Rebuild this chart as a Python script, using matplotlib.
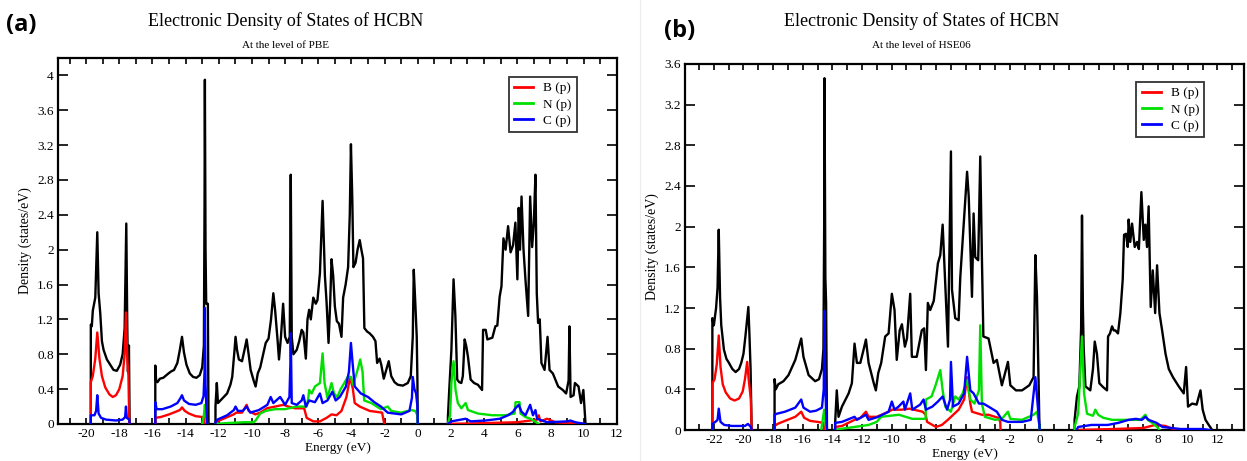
import numpy as np
import matplotlib
matplotlib.use("Agg")
import matplotlib.pyplot as plt
from matplotlib.ticker import MultipleLocator, FuncFormatter
from matplotlib.lines import Line2D

# config
SERIF = "Liberation Serif"
plt.rcParams["font.family"] = SERIF
plt.rcParams["axes.unicode_minus"] = False

GAP = (np.nan, np.nan)  # break between bands

# ---- (a) PBE : (energy eV, density states/eV) ----
pbe_total = [
    (-19.72, 0), (-19.72, 1.14), (-19.66, 1.12), (-19.6, 1.3), (-19.45, 1.45), (-19.33, 2.2), (-19.25, 1.5),
    (-19.15, 1.27), (-19.05, 0.95), (-18.95, 0.85), (-18.75, 0.74), (-18.55, 0.68), (-18.35, 0.62), (-18.15, 0.61),
    (-17.95, 0.68), (-17.8, 0.8), (-17.68, 1.1), (-17.58, 2.3), (-17.52, 1.1), (-17.48, 0.6), (-17.42, 0.9), (-17.38, 0),
    GAP,
    (-15.83, 0), (-15.83, 0.67), (-15.78, 0.5), (-15.7, 0.48), (-15.55, 0.52), (-15.35, 0.53), (-15.1, 0.57),
    (-14.9, 0.6), (-14.7, 0.62), (-14.5, 0.7), (-14.35, 0.85), (-14.22, 1.0), (-14.1, 0.82), (-13.95, 0.68),
    (-13.75, 0.58), (-13.55, 0.54), (-13.35, 0.53), (-13.15, 0.56), (-13.0, 0.65), (-12.9, 0.9), (-12.86, 2.5),
    (-12.84, 3.95), (-12.8, 2.0), (-12.76, 1.38), (-12.66, 1.38), (-12.62, 0),
    GAP,
    (-12.2, 0), (-12.2, 0.2), (-12.12, 0.47), (-12.05, 0.24), (-11.85, 0.28), (-11.5, 0.35), (-11.3, 0.45),
    (-11.19, 0.54), (-11.05, 0.85), (-10.99, 1.0), (-10.9, 0.85), (-10.79, 0.74), (-10.6, 0.72), (-10.45, 0.85),
    (-10.32, 0.97), (-10.2, 0.8), (-10.08, 0.62), (-9.9, 0.5), (-9.78, 0.43), (-9.65, 0.58), (-9.5, 0.65),
    (-9.3, 0.82), (-9.17, 0.93), (-9.0, 0.98), (-8.85, 1.2), (-8.71, 1.5), (-8.6, 1.3), (-8.45, 0.95), (-8.37, 0.74),
    (-8.25, 1.0), (-8.12, 1.38), (-8.0, 1.0), (-7.85, 0.93), (-7.72, 1.0), (-7.66, 2.86), (-7.6, 1.0), (-7.5, 0.8),
    (-7.3, 0.85), (-7.15, 0.95), (-7.0, 1.08), (-6.9, 1.05), (-6.75, 0.75), (-6.65, 1.2), (-6.55, 1.31),
    (-6.45, 1.2), (-6.3, 1.45), (-6.15, 1.38), (-6.05, 1.42), (-5.9, 1.73), (-5.74, 2.56), (-5.6, 1.7), (-5.5, 1.4),
    (-5.38, 0.93), (-5.28, 1.4), (-5.2, 1.89), (-5.1, 1.7), (-5.0, 1.35), (-4.88, 1.18), (-4.75, 1.15), (-4.6, 1.0),
    (-4.5, 1.45), (-4.35, 1.6), (-4.2, 1.8), (-4.1, 2.4), (-4.03, 3.21), (-3.95, 2.6), (-3.88, 1.8), (-3.75, 1.85),
    (-3.63, 2.0), (-3.5, 2.11), (-3.4, 2.0), (-3.3, 1.9), (-3.22, 1.1), (-3.05, 1.06), (-2.9, 1.04), (-2.7, 1.0),
    (-2.55, 0.95), (-2.45, 0.7), (-2.3, 0.75), (-2.2, 0.68), (-2.05, 0.52), (-1.9, 0.62), (-1.75, 0.72), (-1.6, 0.55),
    (-1.4, 0.48), (-1.2, 0.45), (-0.9, 0.44), (-0.6, 0.47), (-0.42, 0.55), (-0.3, 1.0), (-0.24, 1.77), (-0.15, 1.4),
    (-0.06, 1.0), (-0.02, 0.5), (0.0, 0),
    GAP,
    (1.82, 0), (1.82, 0.08), (1.9, 0.39), (2.03, 0.85), (2.16, 1.66), (2.27, 1.24), (2.38, 0.51), (2.5, 0.48),
    (2.63, 0.47), (2.72, 0.55), (2.83, 0.97), (2.93, 0.89), (3.03, 0.77), (3.19, 0.51), (3.4, 0.47), (3.63, 0.45),
    (3.88, 0.39), (3.94, 1.08), (4.1, 1.08), (4.2, 0.97), (4.5, 0.99), (4.68, 1.12), (4.8, 1.13), (4.94, 1.46),
    (5.05, 1.58), (5.17, 2.13), (5.3, 2.0), (5.45, 2.27), (5.6, 1.97), (5.75, 2.05), (5.89, 2.31), (6.01, 1.66),
    (6.09, 2.48), (6.17, 2.0), (6.26, 2.61), (6.38, 2.0), (6.5, 1.65), (6.56, 1.5), (6.66, 1.24), (6.78, 2.61),
    (6.9, 2.03), (7.0, 2.3), (7.1, 2.86), (7.18, 1.5), (7.26, 1.16), (7.36, 1.2), (7.46, 0.7), (7.65, 0.62),
    (7.83, 1.0), (7.95, 0.62), (8.15, 0.58), (8.47, 0.43), (8.75, 0.39), (8.95, 0.35), (9.1, 0.5), (9.15, 1.12),
    (9.22, 0.31), (9.4, 0.33), (9.48, 0.47), (9.7, 0.43), (9.85, 0.24), (9.99, 0.39), (10.09, 0.08), (10.12, 0),
]
pbe_b = [
    (-19.72, 0), (-19.72, 0.48), (-19.6, 0.55), (-19.45, 0.75), (-19.33, 1.05), (-19.2, 0.75), (-19.05, 0.55),
    (-18.85, 0.42), (-18.6, 0.34), (-18.4, 0.31), (-18.2, 0.33), (-18.0, 0.4), (-17.8, 0.55), (-17.68, 0.8),
    (-17.6, 1.28), (-17.52, 0.75), (-17.45, 0.55), (-17.4, 0),
    GAP,
    (-15.83, 0), (-15.83, 0.07), (-15.5, 0.08), (-15.0, 0.11), (-14.6, 0.14), (-14.35, 0.16), (-14.22, 0.19),
    (-14.05, 0.15), (-13.8, 0.12), (-13.4, 0.09), (-13.0, 0.08), (-12.9, 0.08), (-12.86, 0),
    GAP,
    (-12.2, 0), (-12.2, 0.01), (-12.09, 0.03), (-11.6, 0.07), (-11.1, 0.11), (-10.95, 0.13), (-10.6, 0.13),
    (-10.32, 0.22), (-10.2, 0.15), (-9.8, 0.11), (-9.5, 0.13), (-9.1, 0.18), (-8.6, 0.2), (-8.1, 0.22),
    (-7.8, 0.2), (-7.4, 0.18), (-7.0, 0.18), (-6.85, 0.18), (-6.7, 0.07), (-6.3, 0.03), (-5.9, 0.03), (-5.5, 0.07),
    (-5.2, 0.11), (-4.9, 0.1), (-4.6, 0.15), (-4.3, 0.31), (-4.08, 0.54), (-3.92, 0.41), (-3.8, 0.24), (-3.5, 0.2),
    (-2.9, 0.15), (-2.15, 0.13), (-2.05, 0.03), (-2.0, 0),
    GAP,
    (1.82, 0), (3.0, 0.005), (6.0, 0.02), (7.2, 0.05), (7.3, 0.1), (7.4, 0.03), (7.8, 0.06), (8.3, 0.02), (10.0, 0),
]
pbe_n = [
    (-13.0, 0), (-12.9, 0.1), (-12.84, 0.22), (-12.78, 0.1), (-12.7, 0),
    GAP,
    (-12.2, 0), (-11.5, 0.01), (-10.5, 0.02), (-9.9, 0.02), (-9.78, 0.04), (-9.5, 0.12), (-9.17, 0.15),
    (-8.6, 0.17), (-8.0, 0.17), (-7.3, 0.2), (-6.7, 0.2), (-6.6, 0.3), (-6.55, 0.39), (-6.4, 0.35), (-6.2, 0.43),
    (-5.9, 0.47), (-5.74, 0.81), (-5.62, 0.47), (-5.45, 0.3), (-5.2, 0.47), (-5.05, 0.35), (-4.85, 0.31),
    (-4.65, 0.4), (-4.43, 0.47), (-4.23, 0.54), (-4.03, 0.54), (-3.9, 0.45), (-3.63, 0.62), (-3.47, 0.74),
    (-3.33, 0.6), (-3.23, 0.27), (-2.8, 0.24), (-2.22, 0.17), (-1.81, 0.2), (-1.6, 0.15), (-1.0, 0.13),
    (-0.4, 0.16), (-0.15, 0.15), (-0.02, 0.1), (0.0, 0),
    GAP,
    (1.82, 0), (1.95, 0.1), (2.03, 0.47), (2.16, 0.72), (2.28, 0.39), (2.42, 0.24), (2.63, 0.18), (2.89, 0.24),
    (3.03, 0.16), (3.63, 0.12), (4.5, 0.1), (5.3, 0.1), (5.84, 0.12), (5.9, 0.25), (6.14, 0.25), (6.2, 0.12),
    (6.5, 0.08), (6.8, 0.06), (7.06, 0.03), (7.3, 0),
]
pbe_c = [
    (-19.72, 0), (-19.72, 0.1), (-19.5, 0.1), (-19.4, 0.15), (-19.33, 0.33), (-19.25, 0.12), (-19.1, 0.07),
    (-18.8, 0.05), (-18.2, 0.04), (-17.8, 0.05), (-17.65, 0.08), (-17.6, 0.2), (-17.55, 0.07), (-17.4, 0.05),
    (-17.38, 0),
    GAP,
    (-15.83, 0), (-15.83, 0.25), (-15.75, 0.17), (-15.4, 0.17), (-14.9, 0.2), (-14.5, 0.24), (-14.3, 0.3),
    (-14.22, 0.33), (-14.1, 0.27), (-13.8, 0.23), (-13.4, 0.22), (-13.05, 0.24), (-12.92, 0.32), (-12.86, 0.6),
    (-12.84, 1.33), (-12.8, 0.45), (-12.75, 0.2), (-12.7, 0),
    GAP,
    (-12.2, 0), (-12.2, 0.02), (-12.09, 0.05), (-11.5, 0.1), (-11.09, 0.16), (-10.99, 0.2), (-10.85, 0.15),
    (-10.55, 0.15), (-10.32, 0.2), (-10.1, 0.13), (-9.58, 0.16), (-9.07, 0.22), (-8.87, 0.31), (-8.71, 0.24),
    (-8.3, 0.31), (-8.0, 0.22), (-7.74, 0.31), (-7.68, 0.7), (-7.66, 1.04), (-7.6, 0.24), (-7.3, 0.22),
    (-7.0, 0.27), (-6.9, 0.33), (-6.75, 0.2), (-6.55, 0.27), (-6.2, 0.25), (-5.9, 0.35), (-5.74, 0.24),
    (-5.45, 0.27), (-5.15, 0.37), (-4.95, 0.27), (-4.7, 0.31), (-4.33, 0.43), (-4.15, 0.6), (-4.03, 0.93),
    (-3.93, 0.7), (-3.8, 0.43), (-3.43, 0.35), (-3.0, 0.31), (-2.62, 0.25), (-2.22, 0.2), (-1.81, 0.13),
    (-1.0, 0.11), (-0.5, 0.15), (-0.35, 0.3), (-0.3, 0.54), (-0.2, 0.4), (-0.1, 0.35), (-0.02, 0.2), (0.0, 0),
    GAP,
    (1.82, 0), (2.03, 0.03), (2.89, 0.06), (3.2, 0.03), (4.1, 0.04), (4.95, 0.06), (5.45, 0.1), (5.75, 0.14),
    (5.89, 0.18), (6.09, 0.22), (6.26, 0.14), (6.5, 0.1), (6.78, 0.22), (6.95, 0.1), (7.1, 0.16), (7.2, 0.06),
    (7.8, 0.02), (9.05, 0.03), (9.2, 0.04), (9.5, 0.02), (10.1, 0),
]

# ---- (b) HSE06 ----
hse_total = [
    (-22.1, 0), (-22.1, 1.1), (-22.0, 1.03), (-21.85, 1.2), (-21.75, 1.4), (-21.67, 1.97), (-21.58, 1.3),
    (-21.5, 1.03), (-21.32, 0.79), (-21.15, 0.7), (-20.98, 0.66), (-20.75, 0.6), (-20.53, 0.57), (-20.3, 0.6),
    (-20.15, 0.66), (-20.0, 0.75), (-19.87, 0.92), (-19.75, 1.1), (-19.67, 1.21), (-19.6, 0.95), (-19.52, 0.6),
    (-19.45, 0),
    GAP,
    (-17.9, 0), (-17.9, 0.5), (-17.82, 0.4), (-17.65, 0.45), (-17.3, 0.48), (-16.96, 0.54), (-16.5, 0.69),
    (-16.25, 0.82), (-16.1, 0.9), (-15.95, 0.72), (-15.6, 0.54), (-15.16, 0.48), (-14.9, 0.5), (-14.7, 0.6),
    (-14.6, 0.8), (-14.55, 2.0), (-14.53, 3.46), (-14.47, 1.5), (-14.42, 1.25), (-14.36, 0),
    GAP,
    (-13.81, 0), (-13.81, 0.07), (-13.7, 0.39), (-13.58, 0.13), (-13.35, 0.23), (-12.9, 0.36), (-12.68, 0.46),
    (-12.5, 0.85), (-12.34, 0.66), (-12.11, 0.66), (-11.89, 0.79), (-11.73, 0.89), (-11.55, 0.66), (-11.2, 0.46),
    (-11.06, 0.39), (-10.9, 0.56), (-10.7, 0.66), (-10.43, 0.92), (-10.2, 0.95), (-9.98, 1.34), (-9.8, 1.18),
    (-9.65, 0.69), (-9.45, 0.98), (-9.3, 1.04), (-9.1, 0.82), (-8.96, 0.9), (-8.74, 1.34), (-8.63, 0.72),
    (-8.3, 0.72), (-7.96, 0.98), (-7.8, 1.0), (-7.68, 0.59), (-7.55, 1.25), (-7.39, 1.18), (-7.15, 1.27),
    (-6.87, 1.64), (-6.71, 1.72), (-6.55, 2.02), (-6.37, 1.41), (-6.19, 0.82), (-5.99, 2.74), (-5.92, 1.38),
    (-5.7, 1.1), (-5.47, 1.08), (-5.36, 1.5), (-5.15, 1.98), (-4.9, 2.54), (-4.79, 2.3), (-4.57, 1.31),
    (-4.46, 2.13), (-4.35, 1.7), (-4.15, 1.67), (-4.01, 2.69), (-3.9, 1.7), (-3.8, 0.92), (-3.45, 0.9),
    (-3.11, 0.66), (-2.89, 0.69), (-2.66, 0.52), (-2.55, 0.44), (-2.14, 0.67), (-1.98, 0.44), (-1.6, 0.39),
    (-1.19, 0.39), (-0.7, 0.44), (-0.41, 0.52), (-0.29, 1.72), (-0.18, 1.31), (-0.02, 0.07), (0.0, 0),
    GAP,
    (2.36, 0), (2.36, 0.1), (2.52, 0.33), (2.68, 0.43), (2.8, 1.0), (2.86, 2.11), (2.92, 1.2), (2.97, 0.82),
    (3.09, 0.43), (3.42, 0.39), (3.6, 0.6), (3.72, 0.87), (3.87, 0.75), (4.03, 0.46), (4.3, 0.42), (4.55, 0.39),
    (4.62, 0.92), (4.75, 0.95), (4.89, 1.02), (5.0, 0.98), (5.11, 0.98), (5.29, 0.95), (5.45, 1.15), (5.61, 1.48),
    (5.7, 1.92), (5.83, 1.93), (5.95, 1.8), (6.01, 2.07), (6.12, 1.85), (6.24, 2.03), (6.42, 1.8), (6.58, 1.85),
    (6.7, 1.78), (6.87, 2.34), (7.03, 1.87), (7.14, 2.02), (7.25, 1.8), (7.36, 2.2), (7.5, 1.21), (7.64, 1.57),
    (7.8, 1.15), (7.93, 1.62), (8.09, 1.15), (8.27, 0.98), (8.5, 0.75), (8.72, 0.6), (9.0, 0.52), (9.39, 0.43),
    (9.73, 0.36), (9.89, 0.62), (10.02, 0.23), (10.3, 0.26), (10.6, 0.25), (10.86, 0.39), (11.01, 0.2),
    (11.2, 0.1), (11.42, 0.05), (11.65, 0),
]
hse_b = [
    (-22.1, 0), (-22.1, 0.46), (-21.95, 0.5), (-21.8, 0.65), (-21.67, 0.93), (-21.55, 0.62), (-21.4, 0.45),
    (-21.2, 0.37), (-20.9, 0.31), (-20.6, 0.29), (-20.3, 0.31), (-20.05, 0.38), (-19.9, 0.5), (-19.75, 0.67),
    (-19.65, 0.5), (-19.5, 0.3), (-19.45, 0),
    GAP,
    (-17.9, 0), (-17.9, 0.04), (-17.7, 0.06), (-17.2, 0.09), (-16.5, 0.13), (-16.1, 0.18), (-15.9, 0.12),
    (-15.5, 0.09), (-15.0, 0.08), (-14.6, 0.07), (-14.55, 0),
    GAP,
    (-13.81, 0), (-13.81, 0.03), (-13.35, 0.04), (-12.5, 0.1), (-12.1, 0.12), (-11.73, 0.18), (-11.55, 0.13),
    (-11.0, 0.13), (-10.2, 0.18), (-9.98, 0.2), (-9.3, 0.2), (-8.8, 0.21), (-7.9, 0.18), (-7.7, 0.15),
    (-7.6, 0.08), (-7.0, 0.03), (-6.6, 0.05), (-6.2, 0.1), (-5.47, 0.2), (-5.1, 0.3), (-4.9, 0.52),
    (-4.68, 0.26), (-4.57, 0.18), (-3.9, 0.15), (-3.45, 0.15), (-2.8, 0.12), (-2.66, 0.08), (-2.64, 0),
    GAP,
    (2.5, 0), (5.0, 0.01), (7.0, 0.02), (7.8, 0.05), (8.5, 0.04), (9.0, 0.01), (9.5, 0),
]
hse_n = [
    (-14.75, 0), (-14.6, 0.15), (-14.55, 0.2), (-14.45, 0.05), (-14.4, 0),
    GAP,
    (-13.81, 0), (-13.5, 0.01), (-12.5, 0.03), (-11.55, 0.05), (-11.0, 0.08), (-10.7, 0.13), (-9.5, 0.15),
    (-8.6, 0.11), (-7.7, 0.11), (-7.68, 0.3), (-7.3, 0.33), (-7.05, 0.43), (-6.71, 0.59), (-6.55, 0.39),
    (-6.37, 0.23), (-6.0, 0.18), (-5.7, 0.33), (-5.47, 0.3), (-5.2, 0.36), (-4.9, 0.49), (-4.68, 0.3),
    (-4.4, 0.26), (-4.1, 0.39), (-4.01, 1.03), (-3.9, 0.26), (-3.7, 0.13), (-3.0, 0.1), (-2.55, 0.11),
    (-2.14, 0.18), (-1.98, 0.11), (-1.2, 0.1), (-0.41, 0.15), (-0.18, 0.18), (-0.02, 0.05), (0.0, 0),
    GAP,
    (2.36, 0), (2.36, 0.03), (2.6, 0.16), (2.86, 0.92), (3.0, 0.36), (3.2, 0.16), (3.6, 0.14), (3.76, 0.2),
    (3.95, 0.15), (4.3, 0.12), (4.9, 0.1), (6.0, 0.1), (6.8, 0.1), (7.14, 0.15), (7.3, 0.1), (7.6, 0.07),
    (7.93, 0.03), (8.1, 0),
]
hse_c = [
    (-22.1, 0), (-22.1, 0.06), (-21.9, 0.08), (-21.75, 0.1), (-21.67, 0.21), (-21.55, 0.08), (-21.3, 0.05),
    (-20.8, 0.04), (-19.9, 0.04), (-19.7, 0.06), (-19.5, 0.03), (-19.45, 0),
    GAP,
    (-17.9, 0), (-17.9, 0.15), (-17.75, 0.16), (-17.2, 0.18), (-16.5, 0.22), (-16.1, 0.3), (-15.95, 0.22),
    (-15.5, 0.18), (-15.1, 0.19), (-14.7, 0.22), (-14.58, 0.4), (-14.53, 1.17), (-14.48, 0.45), (-14.4, 0.1),
    (-14.36, 0),
    GAP,
    (-13.81, 0), (-13.81, 0.07), (-13.35, 0.08), (-12.5, 0.13), (-12.34, 0.1), (-11.73, 0.15), (-11.55, 0.1),
    (-10.9, 0.13), (-10.2, 0.18), (-9.98, 0.28), (-9.8, 0.2), (-9.53, 0.23), (-9.2, 0.28), (-9.1, 0.2),
    (-8.74, 0.36), (-8.6, 0.2), (-8.07, 0.25), (-7.84, 0.3), (-7.68, 0.2), (-7.25, 0.23), (-6.87, 0.28),
    (-6.55, 0.33), (-6.25, 0.2), (-6.05, 0.3), (-5.99, 0.67), (-5.85, 0.23), (-5.47, 0.26), (-5.1, 0.36),
    (-4.9, 0.72), (-4.68, 0.39), (-4.46, 0.36), (-4.1, 0.26), (-3.8, 0.26), (-3.45, 0.23), (-2.89, 0.18),
    (-2.55, 0.1), (-2.14, 0.08), (-1.19, 0.08), (-0.6, 0.1), (-0.29, 0.52), (-0.18, 0.33), (-0.02, 0.05), (0.0, 0),
    GAP,
    (2.5, 0), (2.6, 0.03), (3.5, 0.05), (4.6, 0.05), (5.3, 0.07), (6.0, 0.1), (6.5, 0.11), (6.9, 0.1),
    (7.14, 0.13), (7.36, 0.1), (7.9, 0.07), (8.3, 0.03), (9.5, 0.01), (11.0, 0.01), (11.5, 0),
]

labels = ["B (p)", "N (p)", "C (p)"]
colors = ["#ff0000", "#00e000", "#0000ff"]

panels = [
    dict(tag="(a)", sub="At the level of PBE", total=pbe_total, parts=[pbe_b, pbe_n, pbe_c],
         rect=[0.0465, 0.0803, 0.4483, 0.794], xlim=(-21.7, 12.02), ylim=(0, 4.2),
         tag_xy=(0.017, 0.945), title_x=0.2293, legend_anchor=(0.928, 0.948)),
    dict(tag="(b)", sub="At the level of HSE06", total=hse_total, parts=[hse_b, hse_n, hse_c],
         rect=[0.5493, 0.0672, 0.4483, 0.794], xlim=(-23.95, 13.8), ylim=(0, 3.6),
         tag_xy=(0.545, 0.933), title_x=0.739, legend_anchor=(0.929, 0.951)),
]

fig = plt.figure(figsize=(12.47, 4.61), dpi=100)

for p in panels:
    ax = fig.add_axes(p["rect"])
    e, d = np.array(p["total"], dtype=float).T
    ax.plot(e, d, color="black", lw=1.7, zorder=2)
    for pts, lab, col in zip(p["parts"], labels, colors):
        e, d = np.array(pts, dtype=float).T
        ax.plot(e, d, color=col, lw=1.7, label=lab, zorder=3)

    ax.set_xlim(*p["xlim"])
    ax.set_ylim(*p["ylim"])
    ax.xaxis.set_major_locator(MultipleLocator(2))
    ax.xaxis.set_minor_locator(MultipleLocator(1))
    ax.yaxis.set_major_locator(MultipleLocator(0.4))
    fmt = FuncFormatter(lambda v, pos: "{:g}".format(round(v, 3)))
    ax.xaxis.set_major_formatter(fmt)
    ax.yaxis.set_major_formatter(fmt)
    ax.tick_params(which="both", direction="in", top=True, right=True, width=1.2,
                   labelsize=9.5, pad=3)
    ax.tick_params(axis="x", which="major", length=4.5)
    ax.tick_params(axis="x", which="minor", length=4)
    ax.tick_params(axis="y", which="major", length=7.5)
    for s in ax.spines.values():
        s.set_linewidth(1.6)

    ax.set_xlabel("Energy (eV)", fontsize=9.5, labelpad=1)
    ax.set_ylabel("Density (states/eV)", fontsize=10, labelpad=4)

    leg = ax.legend(loc="upper right", bbox_to_anchor=p["legend_anchor"], fontsize=9.5,
                    frameon=True, fancybox=False, handlelength=1.45, handletextpad=0.75,
                    labelspacing=0.3, borderpad=0.4, borderaxespad=0)
    leg.get_frame().set_edgecolor("black")
    leg.get_frame().set_linewidth(1.3)
    for h in leg.get_lines():
        h.set_linewidth(2.0)

    fig.text(p["title_x"], 0.955, "Electronic Density of States of HCBN", fontsize=13,
             ha="center", va="center")
    fig.text(p["title_x"], 0.902, p["sub"], fontsize=8, ha="center", va="center")
    fig.text(p["tag_xy"][0], p["tag_xy"][1], p["tag"], fontsize=17, fontweight="bold",
             family="Open Sans", ha="center", va="center")

# faint divider between the two panels
fig.add_artist(Line2D([0.5132, 0.5132], [0.0, 1.0], color="#ececec", lw=0.8))

fig.savefig("out.png", dpi=100)
